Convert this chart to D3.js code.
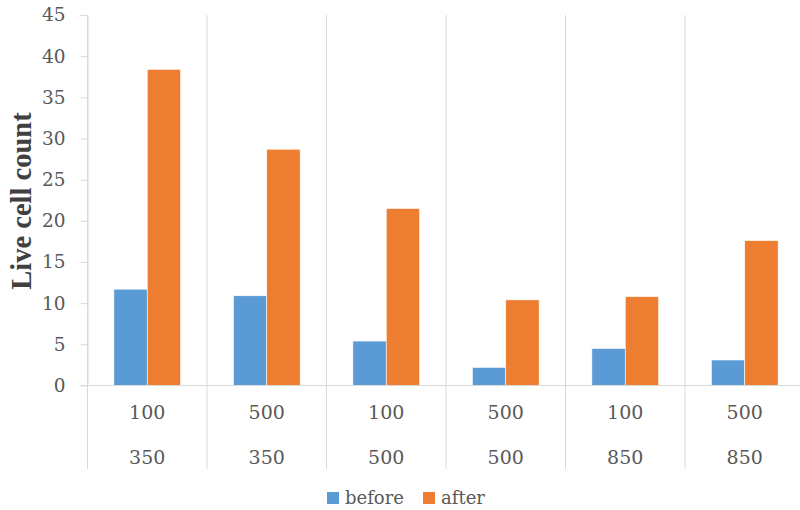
<!DOCTYPE html>
<html>
<head>
<meta charset="utf-8">
<script src="https://cdn.jsdelivr.net/npm/d3@7"></script>
<style>
  body { margin: 0; background: #fff; }
  text { font-family: "DejaVu Serif", serif; fill: #595959; }
</style>
</head>
<body>
<svg id="drawing_region"></svg>
<script>
// category labels (two rows) and series values
const row1 = ['100', '500', '100', '500', '100', '500'];
const row2 = ['350', '350', '500', '500', '850', '850'];
const before = [11.7, 10.9, 5.4, 2.2, 4.5, 3.1];
const after = [38.4, 28.7, 21.5, 10.4, 10.8, 17.6];
const seriesNames = ['before', 'after'];
const yTicks = [0, 5, 10, 15, 20, 25, 30, 35, 40, 45];

const colors = { before: '#5B9BD5', after: '#ED7D31' };

const width = 800, height = 510;
const plotLeft = 87.5, plotTop = 15, plotBottom = 385.5;
const catWidth = 119.5;

const svg = d3.select('#drawing_region')
    .attr('width', width)
    .attr('height', height);

const data = row1.map((d, i) => ({ i: i, before: before[i], after: after[i] }));

const x0 = d3.scaleBand()
    .domain(d3.range(row1.length))
    .range([plotLeft, plotLeft + catWidth * row1.length])
    .paddingInner(0).paddingOuter(0);

const x1 = d3.scaleBand()
    .domain(seriesNames)
    .range([0, x0.bandwidth()])
    .paddingInner(0).paddingOuter(0.79);

const y = d3.scaleLinear()
    .domain([0, 45])
    .range([plotBottom, plotTop]);

// vertical separators / gridlines
svg.append('g')
    .selectAll('line')
    .data(d3.range(row1.length + 1))
    .join('line')
    .attr('x1', d => plotLeft + d * catWidth)
    .attr('x2', d => plotLeft + d * catWidth)
    .attr('y1', plotTop)
    .attr('y2', 469)
    .attr('stroke', '#d9d9d9')
    .attr('stroke-width', 1);

// y axis
const yaxis = d3.axisLeft(y).tickValues(yTicks).tickSize(7).tickPadding(15).tickSizeOuter(0);
const yg = svg.append('g')
    .attr('transform', `translate(${plotLeft}, 0)`)
    .call(yaxis);
yg.select('.domain').attr('stroke', '#d9d9d9');
yg.selectAll('.tick line').attr('stroke', '#d9d9d9');
yg.selectAll('.tick text')
    .attr('font-size', 18.5)
    .attr('font-family', '"DejaVu Serif", serif')
    .attr('fill', '#595959');

// bars
const groups = svg.append('g')
    .selectAll('g')
    .data(data)
    .join('g')
    .attr('transform', d => `translate(${x0(d.i)}, 0)`);

groups.selectAll('rect')
    .data(d => seriesNames.map(k => ({ key: k, value: d[k] })))
    .join('rect')
    .attr('x', d => x1(d.key))
    .attr('y', d => y(d.value))
    .attr('width', x1.bandwidth())
    .attr('height', d => y(0) - y(d.value))
    .attr('fill', d => colors[d.key])
    .attr('stroke', '#fff')
    .attr('stroke-width', 0.6);

// x axis line
svg.append('line')
    .attr('x1', plotLeft - 7)
    .attr('x2', width)
    .attr('y1', y(0))
    .attr('y2', y(0))
    .attr('stroke', '#d9d9d9')
    .attr('stroke-width', 1.2);

// two-row category labels
const labels = svg.append('g');
labels.selectAll('.r1')
    .data(row1)
    .join('text')
    .attr('class', 'r1')
    .attr('x', (d, i) => x0(i) + x0.bandwidth() / 2)
    .attr('y', 419)
    .attr('text-anchor', 'middle')
    .attr('font-size', 19)
    .text(d => d);
labels.selectAll('.r2')
    .data(row2)
    .join('text')
    .attr('class', 'r2')
    .attr('x', (d, i) => x0(i) + x0.bandwidth() / 2)
    .attr('y', 464)
    .attr('text-anchor', 'middle')
    .attr('font-size', 19)
    .text(d => d);

// y title
svg.append('text')
    .attr('transform', 'translate(31, 201) rotate(-90)')
    .attr('text-anchor', 'middle')
    .attr('font-size', 28.5)
    .attr('font-weight', 'bold')
    .style('font-family', '"Liberation Serif", serif')
    .style('fill', '#404040')
    .text('Live cell count');

// legend
const legend = svg.append('g');
const legendX = [327, 423];
seriesNames.forEach((k, i) => {
    legend.append('rect')
        .attr('x', legendX[i])
        .attr('y', 492)
        .attr('width', 12)
        .attr('height', 12)
        .attr('fill', colors[k]);
    legend.append('text')
        .attr('x', legendX[i] + 18)
        .attr('y', 504)
        .attr('font-size', 18)
        .text(k);
});
</script>
</body>
</html>
